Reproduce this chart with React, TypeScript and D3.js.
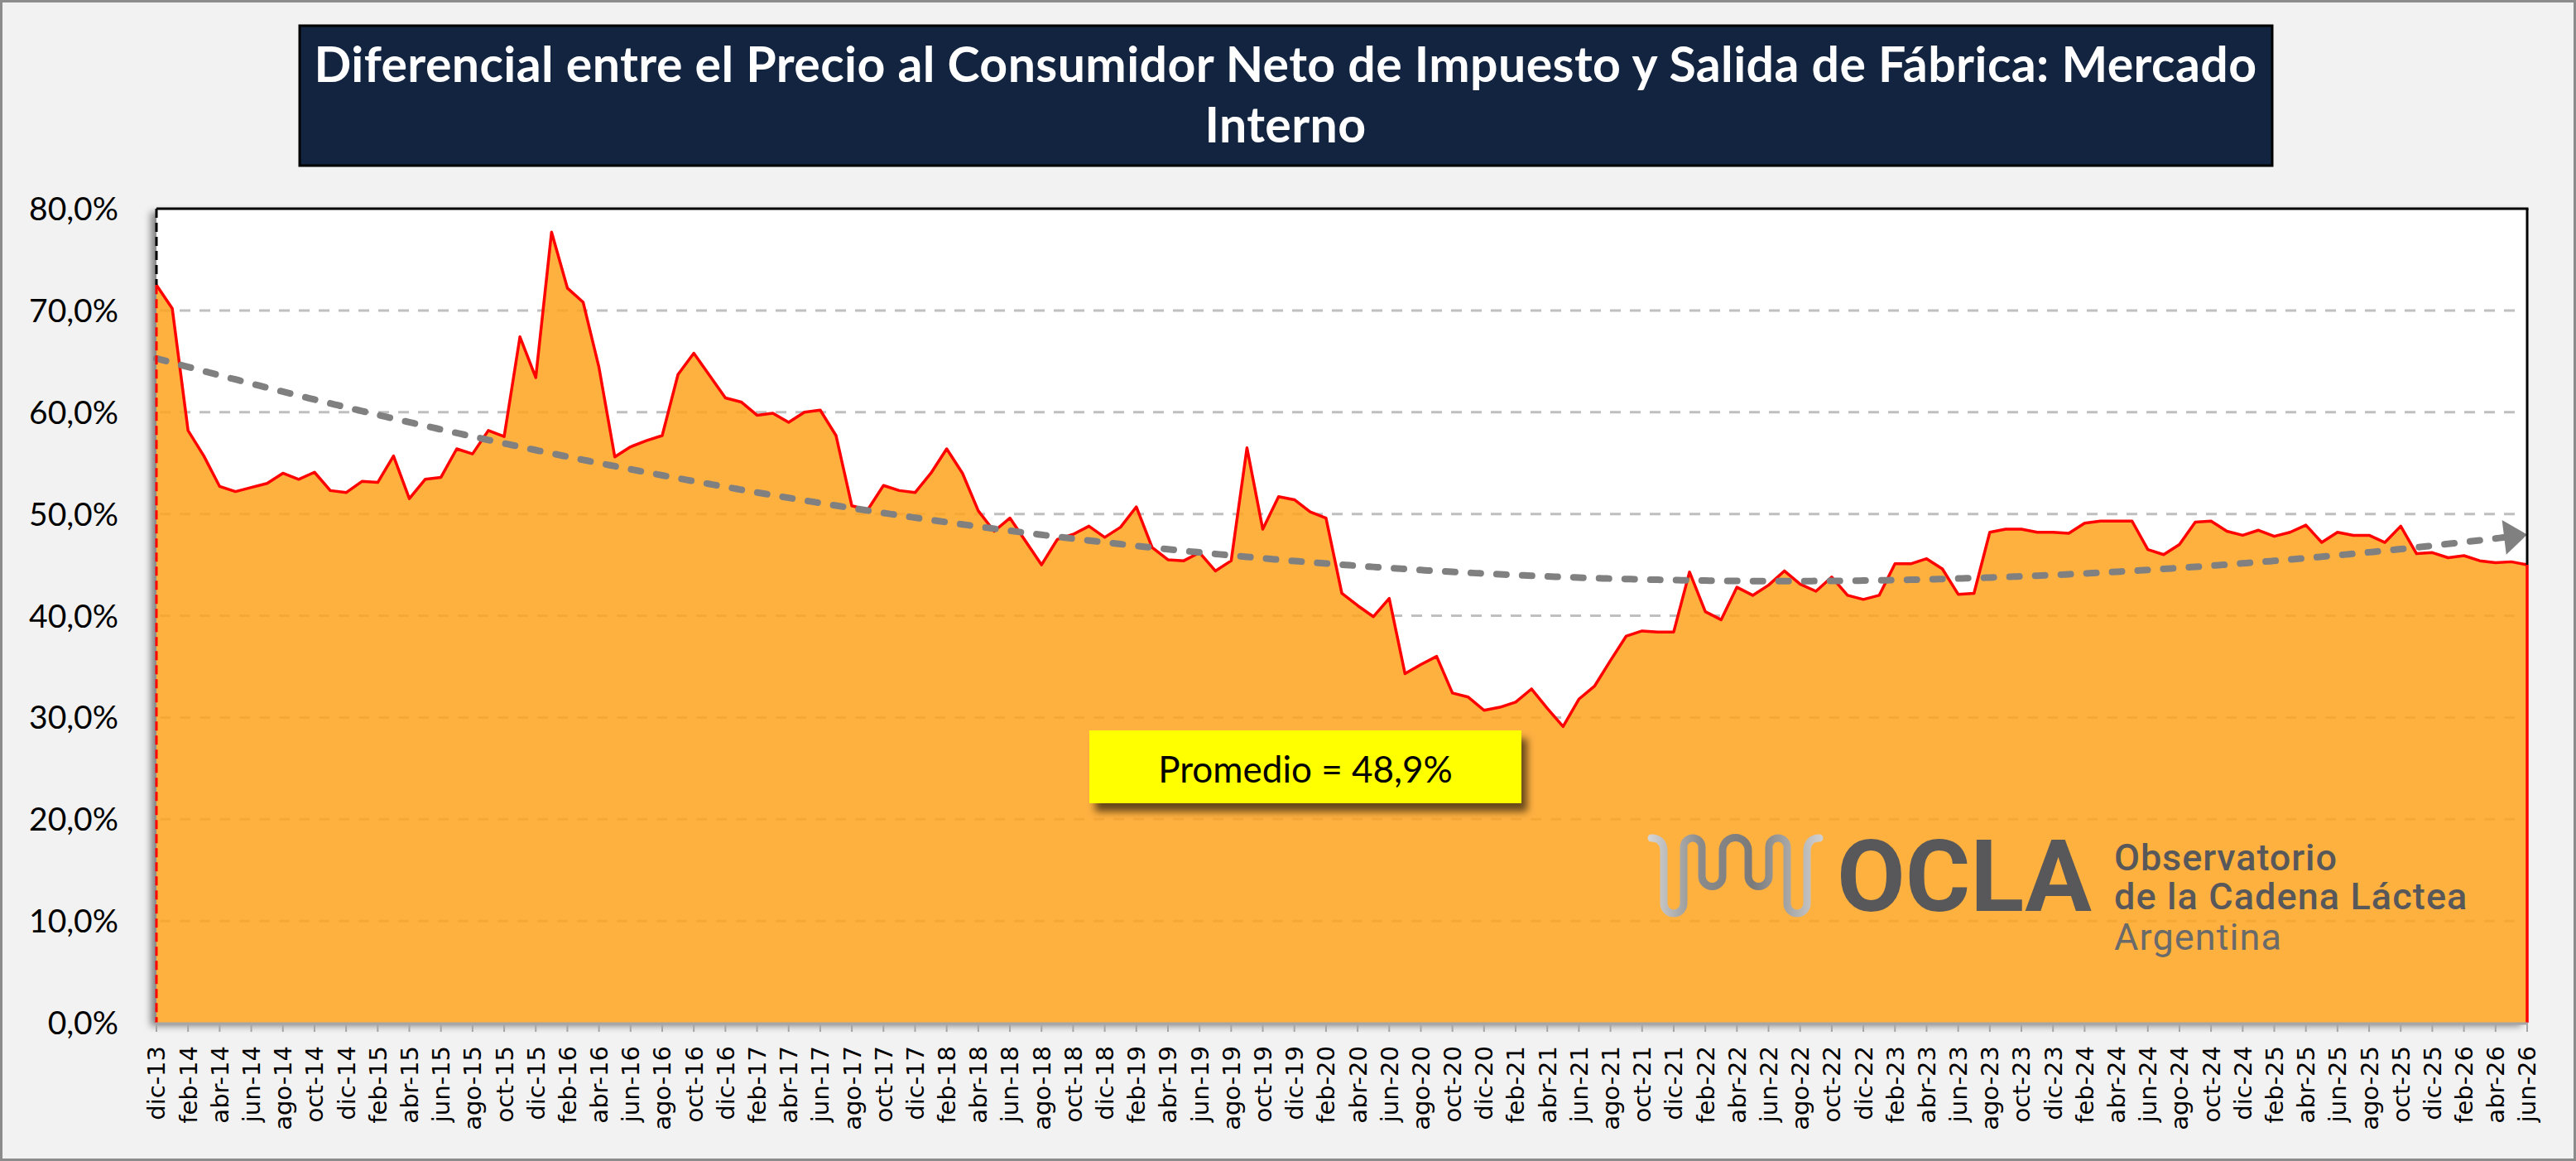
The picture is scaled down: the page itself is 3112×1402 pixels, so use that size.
import React from "react";
import * as d3 from "d3";

// ---------- DATA ----------
const MONTHS = ["ene", "feb", "mar", "abr", "may", "jun", "jul", "ago", "sep", "oct", "nov", "dic"];
const START_YEAR = 2013;
const START_MONTH = 11; // dic-13

// Diferencial (%) mensual, dic-13 .. jun-26
const VALUES = [
  72.5, 70.2, 58.2, 55.7, 52.7, 52.2, 52.6, 53.0, 54.0, 53.4,
  54.1, 52.3, 52.1, 53.2, 53.1, 55.7, 51.5, 53.4, 53.6, 56.4,
  55.9, 58.2, 57.6, 67.4, 63.4, 77.7, 72.2, 70.8, 64.4, 55.6,
  56.6, 57.2, 57.7, 63.7, 65.8, 63.6, 61.4, 61.0, 59.7, 59.9,
  59.0, 60.0, 60.2, 57.7, 50.8, 50.4, 52.8, 52.3, 52.1, 54.0,
  56.4, 54.0, 50.3, 48.3, 49.6, 47.3, 45.0, 47.5, 48.0, 48.8,
  47.7, 48.7, 50.7, 46.7, 45.5, 45.4, 46.2, 44.4, 45.4, 56.5,
  48.5, 51.7, 51.4, 50.2, 49.6, 42.2, 41.0, 39.9, 41.7, 34.3,
  35.2, 36.0, 32.4, 32.0, 30.7, 31.0, 31.5, 32.8, 30.9, 29.1,
  31.8, 33.1, 35.6, 38.0, 38.5, 38.4, 38.4, 44.3, 40.4, 39.6,
  42.8, 42.0, 43.0, 44.4, 43.1, 42.4, 43.8, 42.0, 41.6, 42.0,
  45.1, 45.1, 45.6, 44.6, 42.1, 42.2, 48.2, 48.5, 48.5, 48.2,
  48.2, 48.1, 49.1, 49.3, 49.3, 49.3, 46.5, 46.0, 47.0, 49.2,
  49.3, 48.3, 47.9, 48.4, 47.8, 48.2, 48.9, 47.2, 48.2, 47.9,
  47.9, 47.2, 48.8, 46.1, 46.2, 45.7, 45.9, 45.4, 45.2, 45.3,
  45.0,
];

const CATEGORIES = VALUES.map((_, i) => {
  const k = START_MONTH + i;
  const yr = (START_YEAR + Math.floor(k / 12)) % 100;
  return `${MONTHS[k % 12]}-${String(yr).padStart(2, "0")}`;
});

const Y_TICKS = [0, 10, 20, 30, 40, 50, 60, 70, 80];
const GRID_TICKS = [10, 20, 30, 40, 50, 60, 70];
const LABEL_EVERY = 2;
const TREND_ORDER = 2;

const TITLE_LINES = [
  "Diferencial entre el Precio al Consumidor Neto de Impuesto y Salida de Fábrica: Mercado",
  "Interno",
];

const LOGO_BIG = "OCLA";
const LOGO_LINES = ["Observatorio", "de la Cadena Láctea", "Argentina"];

// ---------- HELPERS ----------
function polyfit(xs: number[], ys: number[], order: number): number[] {
  const n = order + 1;
  const A: number[][] = Array.from({ length: n }, () => new Array(n).fill(0));
  const b: number[] = new Array(n).fill(0);
  xs.forEach((x, k) => {
    const p: number[] = [];
    for (let j = 0; j < n; j++) p.push(Math.pow(x, j));
    for (let r = 0; r < n; r++) {
      b[r] += p[r] * ys[k];
      for (let c = 0; c < n; c++) A[r][c] += p[r] * p[c];
    }
  });
  for (let col = 0; col < n; col++) {
    let piv = col;
    for (let r = col + 1; r < n; r++) if (Math.abs(A[r][col]) > Math.abs(A[piv][col])) piv = r;
    [A[col], A[piv]] = [A[piv], A[col]];
    [b[col], b[piv]] = [b[piv], b[col]];
    for (let r = col + 1; r < n; r++) {
      const f = A[r][col] / A[col][col];
      for (let c = col; c < n; c++) A[r][c] -= f * A[col][c];
      b[r] -= f * b[col];
    }
  }
  const coef = new Array(n).fill(0);
  for (let r = n - 1; r >= 0; r--) {
    let s = b[r];
    for (let c = r + 1; c < n; c++) s -= A[r][c] * coef[c];
    coef[r] = s / A[r][r];
  }
  return coef;
}

const fmtPct = (v: number) => d3.format(".1f")(v).replace(".", ",") + "%";

// ---------- LAYOUT ----------
const W = 3112;
const H = 1402;
const PL = 189;
const PR = 3053;
const PT = 252;
const PB = 1235;

export default function App() {
  const n = VALUES.length;
  const x = d3.scaleLinear().domain([0, n - 1]).range([PL, PR]);
  const y = d3.scaleLinear().domain([0, 80]).range([PB, PT]);

  const idx = d3.range(n);
  const areaPath = d3
    .area<number>()
    .x((i) => x(i))
    .y0(y(0))
    .y1((i) => y(VALUES[i]))(idx) as string;
  const linePath = d3
    .line<number>()
    .x((i) => x(i))
    .y((i) => y(VALUES[i]))(idx) as string;

  const ts = idx.map((i) => i / (n - 1));
  const coef = polyfit(ts, VALUES, TREND_ORDER);
  const trendVal = (i: number) => {
    const t = i / (n - 1);
    return coef.reduce((s, c, j) => s + c * Math.pow(t, j), 0);
  };
  const arrowLen = 28;
  const arrowHalf = 21;
  const trendIdx = d3.range(0, n - 1 + 1e-9, 0.25).filter((i) => x(i) <= PR - arrowLen + 4);
  const trendPath = d3
    .line<number>()
    .x((i) => x(i))
    .y((i) => y(trendVal(i)))(trendIdx) as string;
  const endY = y(trendVal(n - 1));
  const slopeAng = Math.atan2(y(trendVal(n - 1)) - y(trendVal(n - 3)), x(n - 1) - x(n - 3));
  const tipX = PR;
  const tipY = endY;
  const bx = tipX - arrowLen * Math.cos(slopeAng);
  const by = tipY - arrowLen * Math.sin(slopeAng);
  const px = -Math.sin(slopeAng) * arrowHalf;
  const py = Math.cos(slopeAng) * arrowHalf;
  const arrowPts = `${tipX},${tipY} ${bx + px},${by + py} ${bx - px},${by - py}`;

  const avgLabel = "Promedio = " + fmtPct(d3.mean(VALUES) as number);

  const labelIdx = idx.filter((i) => i % LABEL_EVERY === 0);

  return (
    <svg
      width={W}
      height={H}
      viewBox={`0 0 ${W} ${H}`}
      style={{ position: "absolute", left: 0, top: 0, display: "block" }}
    >
      <defs>
        <filter id="plotShadow" x="-3%" y="-3%" width="106%" height="106%">
          <feDropShadow dx="-7" dy="4" stdDeviation="4" floodColor="#000" floodOpacity="0.45" />
        </filter>
        <filter id="boxShadow" x="-10%" y="-30%" width="125%" height="170%">
          <feDropShadow dx="7" dy="10" stdDeviation="5" floodColor="#000" floodOpacity="0.6" />
        </filter>
        <linearGradient id="tube" gradientUnits="userSpaceOnUse" x1="1993" y1="0" x2="2200" y2="0">
          <stop offset="0" stopColor="#d4d4d4" />
          <stop offset="0.3" stopColor="#8a8a8a" />
          <stop offset="0.6" stopColor="#7a7a7a" />
          <stop offset="1" stopColor="#cfcfcf" />
        </linearGradient>
      </defs>

      {/* background */}
      <rect x={1.5} y={1.5} width={W - 3} height={H - 3} fill="#F2F2F2" stroke="#8C8C8C" strokeWidth={3} />

      {/* title */}
      <rect x={362} y={31} width={2383} height={169} fill="#12243F" stroke="#000" strokeWidth={3} />
      {TITLE_LINES.map((t, k) => (
        <text
          key={k}
          x={1553}
          y={99 + k * 73}
          textAnchor="middle"
          fontFamily="Lato, 'Open Sans', sans-serif"
          fontWeight={700}
          fontSize={59}
          letterSpacing={0.4}
          fill="#FFFFFF"
        >
          {t}
        </text>
      ))}

      {/* plot area */}
      <rect x={PL} y={PT} width={PR - PL} height={PB - PT} fill="#FFFFFF" filter="url(#plotShadow)" />

      {/* gridlines */}
      {GRID_TICKS.map((v) => (
        <line
          key={v}
          x1={PL + 4}
          x2={PR - 4}
          y1={y(v)}
          y2={y(v)}
          stroke="#BFBFBF"
          strokeWidth={3}
          strokeDasharray="13 11"
        />
      ))}

      {/* area series */}
      <path d={areaPath} fill="rgb(255,163,30)" fillOpacity={0.85} />
      <path d={linePath} fill="none" stroke="#FF0000" strokeWidth={3.5} strokeLinejoin="round" />
      <line x1={x(n - 1)} x2={x(n - 1)} y1={y(VALUES[n - 1])} y2={PB} stroke="#FF0000" strokeWidth={3.5} />

      {/* trend line */}
      <path
        d={trendPath}
        fill="none"
        stroke="#808080"
        strokeWidth={8}
        strokeDasharray="12 19"
        strokeLinecap="round"
      />
      <polygon points={arrowPts} fill="#808080" />

      {/* plot borders */}
      <line x1={PL} x2={PR + 1.5} y1={PT} y2={PT} stroke="#000" strokeWidth={3} />
      <line x1={PR} x2={PR} y1={PT} y2={y(VALUES[n - 1])} stroke="#000" strokeWidth={3} />
      <line x1={PL} x2={PL} y1={PT} y2={y(VALUES[0])} stroke="#000" strokeWidth={3} strokeDasharray="11 6" />
      <line x1={PL} x2={PL} y1={y(VALUES[0])} y2={PB} stroke="#FF0000" strokeWidth={3} strokeDasharray="11 6" />
      <line x1={PL - 1} x2={PR + 1} y1={PB + 1} y2={PB + 1} stroke="#A6A6A6" strokeWidth={3} />

      {/* y axis labels */}
      {Y_TICKS.map((v) => (
        <text
          key={v}
          x={143}
          y={y(v)}
          dy="0.36em"
          textAnchor="end"
          fontFamily="Lato, sans-serif"
          fontSize={39}
          fill="#000"
        >
          {fmtPct(v)}
        </text>
      ))}

      {/* x ticks & labels */}
      {labelIdx.map((i) => (
        <line key={"t" + i} x1={x(i)} x2={x(i)} y1={PB + 2} y2={PB + 11} stroke="#A6A6A6" strokeWidth={2} />
      ))}
      {labelIdx.map((i) => (
        <text
          key={"l" + i}
          transform={`translate(${x(i)},1263) rotate(-90)`}
          dy="0.36em"
          textAnchor="end"
          fontFamily="'DejaVu Sans', sans-serif"
          fontSize={29}
          fill="#000"
        >
          {CATEGORIES[i]}
        </text>
      ))}

      {/* average label */}
      <rect x={1316} y={882} width={522} height={88} fill="#FFFF00" filter="url(#boxShadow)" />
      <text
        x={1577}
        y={945}
        textAnchor="middle"
        fontFamily="Lato, sans-serif"
        fontSize={44}
        fill="#000"
      >
        {avgLabel}
      </text>

      {/* logo */}
      <path
        d="M1995,1012 C2005,1012 2010,1018 2010,1028 L2010,1091 A12,12 0 0 0 2034,1091 L2034,1023 A11,11 0 0 1 2056,1023 L2056,1058 A12.5,12.5 0 0 0 2081,1058 L2081,1027 A15.5,15.5 0 0 1 2112,1027 L2112,1058 A12.5,12.5 0 0 0 2137,1058 L2137,1023 A11,11 0 0 1 2159,1023 L2159,1091 A12,12 0 0 0 2183,1091 L2183,1028 C2183,1018 2188,1012 2198,1012"
        fill="none"
        stroke="url(#tube)"
        strokeWidth={9}
        strokeLinecap="round"
        strokeLinejoin="round"
      />
      <text x={2219} y={1100} fontFamily="Roboto, sans-serif" fontWeight={700} fontSize={120} fill="#58585A">
        {LOGO_BIG}
      </text>
      <text x={2554} y={1051} fontFamily="Roboto, sans-serif" fontWeight={500} fontSize={45} letterSpacing={0.9} fill="#58585A">
        {LOGO_LINES[0]}
      </text>
      <text x={2554} y={1098} fontFamily="Roboto, sans-serif" fontWeight={500} fontSize={45} letterSpacing={1.1} fill="#58585A">
        {LOGO_LINES[1]}
      </text>
      <text x={2554} y={1147} fontFamily="Roboto, sans-serif" fontWeight={400} fontSize={45} letterSpacing={1.1} fill="#6A6A6A">
        {LOGO_LINES[2]}
      </text>
    </svg>
  );
}
